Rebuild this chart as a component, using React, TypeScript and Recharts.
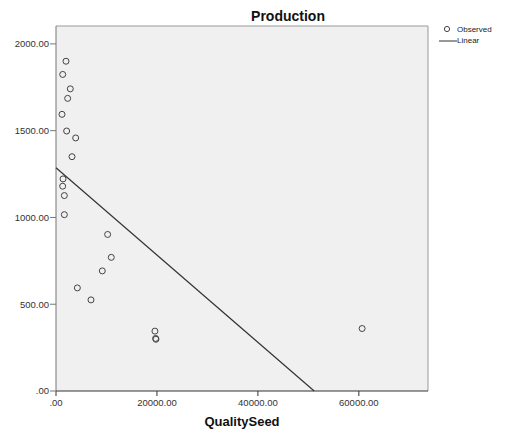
import {
  ScatterChart,
  Scatter,
  XAxis,
  YAxis,
  CartesianGrid,
  ReferenceLine,
  Legend,
} from "recharts";

// QualitySeed (x) vs Production (y)
const seedValues = [
  1980, 1330, 2830, 2310, 1190, 2110, 3900, 3170, 1390, 1320, 1650, 1650,
  10230, 10950, 9170, 4230, 6930, 19600, 19740, 19800, 60650,
];
const productionValues = [
  1900, 1824, 1741, 1686, 1594, 1498, 1458, 1350, 1222, 1180, 1126, 1016,
  902, 770, 692, 594, 525, 345, 303, 298, 360,
];

// fitted linear line, from its start at x = 0 to where it meets y = 0
const fitX = [0, 51150];
const fitY = [1286, 0];

const xTicks = [0, 20000, 40000, 60000];
const yTicks = [0, 500, 1000, 1500, 2000];
const xMax = 73700;
const yMax = 2103;

const observed = seedValues.map((x, i) => ({ x, y: productionValues[i] }));
const linear = fitX.map((x, i) => ({ x, y: fitY[i] }));

const FONT = "'Liberation Sans', Arial, sans-serif";

const fmt = (v: number) => (v === 0 ? ".00" : v.toFixed(2));

const Ring = (props: any) => (
  <circle cx={props.cx} cy={props.cy} r={3} fill="none" stroke="#444" strokeWidth={1} />
);

const LegendBox = () => (
  <div style={{ fontFamily: FONT, fontSize: 8, color: "#222", lineHeight: "11px" }}>
    <div style={{ display: "flex", alignItems: "center" }}>
      <svg width={19} height={11}>
        <circle cx={9} cy={5} r={2.6} fill="none" stroke="#444" strokeWidth={1} />
      </svg>
      <span>Observed</span>
    </div>
    <div style={{ display: "flex", alignItems: "center" }}>
      <svg width={19} height={11}>
        <line x1={1} y1={6} x2={19} y2={6} stroke="#333" strokeWidth={1} />
      </svg>
      <span>Linear</span>
    </div>
  </div>
);

export default function App() {
  return (
    <div style={{ position: "relative", width: 508, height: 438, background: "#fff" }}>
      <style>{`body{margin:0}`}</style>
      <div
        style={{
          position: "absolute",
          left: 188,
          top: 8,
          width: 200,
          textAlign: "center",
          fontFamily: FONT,
          fontWeight: "bold",
          fontSize: 14,
          lineHeight: "16px",
          color: "#111",
        }}
      >
        Production
      </div>
      <ScatterChart
        width={508}
        height={438}
        margin={{ top: 26, right: 80, bottom: 0, left: 0 }}
      >
        <CartesianGrid fill="#f0f0f0" horizontal={false} vertical={false} />
        <XAxis
          type="number"
          dataKey="x"
          domain={[0, xMax]}
          ticks={xTicks}
          tickFormatter={fmt}
          height={47}
          tickSize={5}
          tickMargin={3}
          stroke="#333"
          tick={{ fontSize: 9.5, fill: "#333", fontFamily: FONT }}
          label={{
            value: "QualitySeed",
            position: "insideBottom",
            offset: 12,
            style: { fontFamily: FONT, fontWeight: "bold", fontSize: 13, fill: "#111" },
          }}
        />
        <YAxis
          type="number"
          dataKey="y"
          domain={[0, yMax]}
          ticks={yTicks}
          tickFormatter={fmt}
          width={56}
          tickSize={6}
          tickMargin={1}
          stroke="#777"
          tick={{ fontSize: 9.5, fill: "#333", fontFamily: FONT }}
        />
        <ReferenceLine y={yMax} stroke="#999" />
        <ReferenceLine x={xMax} stroke="#999" />
        <Scatter
          name="Observed"
          data={observed}
          shape={Ring}
          isAnimationActive={false}
        />
        <Scatter
          name="Linear"
          data={linear}
          line={{ stroke: "#333", strokeWidth: 1.2 }}
          shape={() => <g />}
          isAnimationActive={false}
        />
        <Legend
          content={LegendBox}
          layout="vertical"
          align="center"
          verticalAlign="middle"
          wrapperStyle={{ position: "absolute", top: 24, left: 438, width: 70 }}
        />
      </ScatterChart>
    </div>
  );
}
